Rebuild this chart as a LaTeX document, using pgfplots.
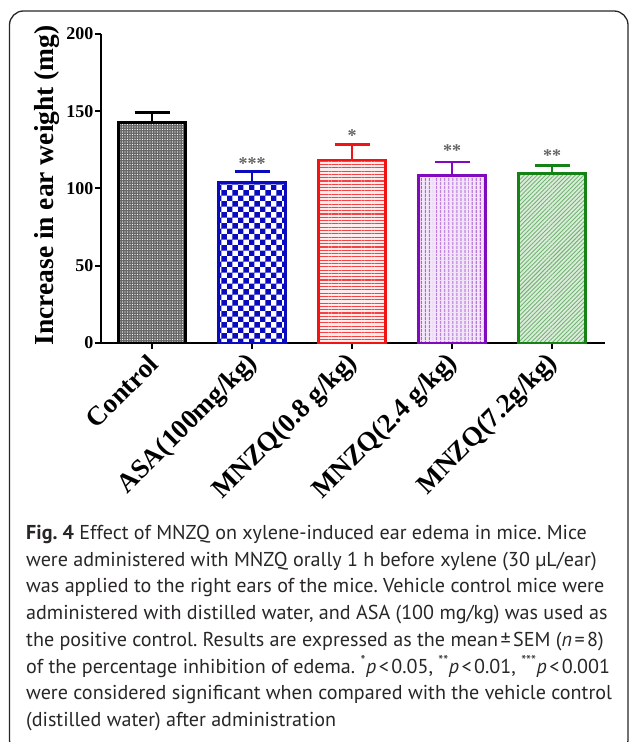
\documentclass[border=0pt]{standalone}
\usepackage{fontspec}
\usepackage{pgfplots}
\pgfplotsset{compat=1.18}
\usetikzlibrary{patterns,patterns.meta}
\setmainfont{Liberation Serif}
\newfontfamily\capfont{PT Sans}
\definecolor{cblue}{RGB}{10,10,190}
\definecolor{cred}{RGB}{240,20,20}
\definecolor{cpurple}{RGB}{130,10,190}
\definecolor{cgreen}{RGB}{20,130,20}
\definecolor{ctext}{RGB}{40,38,38}
\newcommand{\ls}{\kern2.5pt<\kern2.5pt}
\begin{document}
\begin{tikzpicture}[x=1pt,y=1pt]
\path[use as bounding box] (0,0) rectangle (630,742);
\draw[line width=1.3pt, rounded corners=14pt, black!85] (9.5,-12) rectangle (628,731);
\begin{axis}[
  at={(101pt,399pt)}, anchor=south west,
  scale only axis, width=504pt, height=309pt,
  xmin=-0.51, xmax=4.53, ymin=0, ymax=200,
  axis lines=left, axis line style={line width=2.4pt, -},
  ytick={0,50,100,150,200}, xtick={0,1,2,3,4},
  tick style={line width=2pt, black},
  major tick length=6pt, tick align=outside,
  /pgf/number format/assume math mode=true,
  xticklabels={Control, ASA(100mg/kg), MNZQ(0.8 g/kg), MNZQ(2.4 g/kg), MNZQ(7.2g/kg)},
  xticklabel style={yshift=-8pt, xshift=4pt, rotate=45, anchor=east, font=\fontsize{27}{27}\selectfont\bfseries},
  yticklabel style={inner sep=1.5pt, font=\fontsize{18}{18}\selectfont\bfseries},
  ylabel={Increase in ear weight (mg)},
  ylabel style={font=\fontsize{27.5}{27.5}\selectfont\bfseries, at={(axis description cs:-0.107,0.51)}, anchor=center},
  clip=false,
]
\addplot[ybar, bar width=0.67, draw=black, line width=2.4pt, fill=black!60,
  postaction={pattern={Dots[distance=2.5pt, radius=0.6pt]}, pattern color=white},
  error bars/.cd, y dir=plus, y explicit,
  error bar style={line width=2.4pt, black},
  error mark options={rotate=90, mark size=17.5pt, line width=2.4pt, black}]
  coordinates {(0,142.6) +- (0,6.7)};
\addplot[ybar, bar width=0.67, draw=cblue, line width=2.4pt, fill=white,
  postaction={pattern=checkerboard, pattern color=cblue},
  error bars/.cd, y dir=plus, y explicit,
  error bar style={line width=2.4pt, cblue},
  error mark options={rotate=90, mark size=17.5pt, line width=2.4pt, cblue}]
  coordinates {(1,104) +- (0,7)};
\addplot[ybar, bar width=0.67, draw=cred, line width=2.4pt, fill=cred!8,
  postaction={pattern={Lines[angle=0, distance=3.3pt, line width=1.1pt]}, pattern color=cred!80},
  error bars/.cd, y dir=plus, y explicit,
  error bar style={line width=2.4pt, cred},
  error mark options={rotate=90, mark size=17.5pt, line width=2.4pt, cred}]
  coordinates {(2,118.4) +- (0,10.2)};
\addplot[ybar, bar width=0.67, draw=cpurple, line width=2.4pt, fill=cpurple!10,
  postaction={pattern={Lines[angle=90, distance=4pt, line width=1.2pt]}, pattern color=cpurple!70},
  error bars/.cd, y dir=plus, y explicit,
  error bar style={line width=2.4pt, cpurple},
  error mark options={rotate=90, mark size=17.5pt, line width=2.4pt, cpurple}]
  coordinates {(3,108.3) +- (0,8.7)};
\addplot[ybar, bar width=0.67, draw=cgreen, line width=2.4pt, fill=cgreen!15,
  postaction={pattern={Lines[angle=45, distance=3pt, line width=0.9pt]}, pattern color=cgreen!60},
  error bars/.cd, y dir=plus, y explicit,
  error bar style={line width=2.4pt, cgreen},
  error mark options={rotate=90, mark size=17.5pt, line width=2.4pt, cgreen}]
  coordinates {(4,109.8) +- (0,5)};
\node[text=black!60, font=\fontsize{18}{18}\selectfont\bfseries] at (axis cs:1,116) {***};
\node[text=black!60, font=\fontsize{18}{18}\selectfont\bfseries] at (axis cs:2,134) {*};
\node[text=black!60, font=\fontsize{18}{18}\selectfont\bfseries] at (axis cs:3,124.5) {**};
\node[text=black!60, font=\fontsize{18}{18}\selectfont\bfseries] at (axis cs:4,121) {**};
\end{axis}
\node[anchor=north west, align=left, inner sep=0pt, text=ctext,
  font=\capfont\fontsize{20.1}{26.7}\selectfont\frenchspacing] at (26,217) {%
\textbf{Fig. 4} Effect of MNZQ on xylene-induced ear edema in mice. Mice\\
were administered with MNZQ orally 1 h before xylene (30 µL/ear)\\
was applied to the right ears of the mice. Vehicle control mice were\\
administered with distilled water, and ASA (100 mg/kg) was used as\\
the positive control. Results are expressed as the mean\kern2.5pt±\kern2.5pt SEM (\textit{n}\kern2.5pt=\kern2.5pt8)\\
of the percentage inhibition of edema. \textsuperscript{*}\textit{p}\ls0.05, \textsuperscript{**}\textit{p}\ls0.01, \textsuperscript{***}\textit{p}\ls0.001\\
were considered significant when compared with the vehicle control\\
(distilled water) after administration};
\end{tikzpicture}
\end{document}
